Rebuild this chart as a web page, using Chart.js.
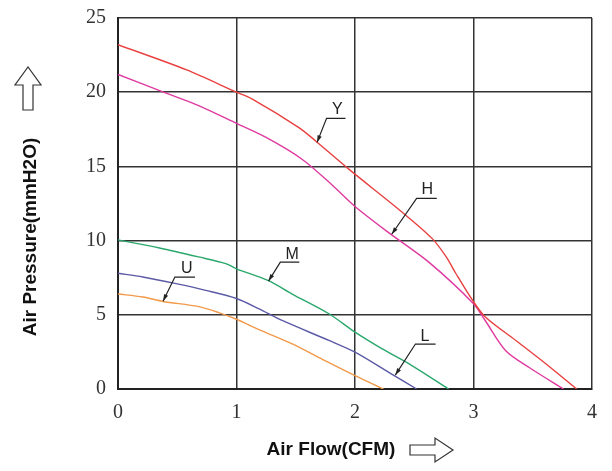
<!DOCTYPE html>
<html>
<head>
<meta charset="utf-8">
<script src="https://cdn.jsdelivr.net/npm/chart.js@4"></script>
<style>
  html, body { margin: 0; padding: 0; background: #fff; }
  #wrap { width: 612px; height: 471px; position: relative; }
</style>
</head>
<body>
<div id="wrap"><canvas id="myChart" width="612" height="471"></canvas></div>
<script>
// curve data (Air Flow CFM -> Air Pressure mmH2O)
const yFlow = [0, 0.58, 1.0, 1.13, 1.53, 1.67, 1.95, 2.37, 2.65, 2.77, 2.85, 2.99, 3.10, 3.36, 3.61, 3.87]
const yPres = [23.2, 21.5, 20.0, 19.55, 17.6, 16.7, 14.8, 12.1, 10.15, 8.9, 7.8, 6.0, 4.85, 3.25, 1.7, 0]

const hFlow = [0, 0.40, 0.68, 1.0, 1.25, 1.55, 1.80, 2.0, 2.29, 2.63, 3.0, 3.10, 3.27, 3.47, 3.76]
const hPres = [21.2, 19.95, 19.1, 17.9, 16.95, 15.5, 13.8, 12.3, 10.5, 8.5, 5.75, 4.6, 2.6, 1.45, 0]

const mFlow = [0, 0.35, 0.68, 0.91, 1.0, 1.27, 1.47, 1.78, 2.0, 2.23, 2.48, 2.79]
const mPres = [10.05, 9.5, 8.9, 8.45, 8.1, 7.3, 6.4, 5.07, 3.83, 2.7, 1.58, 0]

const lFlow = [0, 0.21, 0.49, 0.74, 1.0, 1.19, 1.39, 1.78, 2.0, 2.32, 2.52]
const lPres = [7.8, 7.55, 7.1, 6.65, 6.1, 5.4, 4.6, 3.27, 2.48, 0.95, 0]

const uFlow = [0, 0.21, 0.38, 0.68, 0.85, 1.0, 1.19, 1.47, 1.75, 2.0, 2.24]
const uPres = [6.4, 6.2, 5.9, 5.55, 5.15, 4.7, 4.0, 3.04, 1.9, 0.9, 0]

const xTicks = [0, 1, 2, 3, 4]
const yTicks = [0, 5, 10, 15, 20, 25]

// curve tags: letter, text spot, underline start/end, arrow tip (data units)
const tagNames = ["Y", "H", "M", "U", "L"]
const tagText = [[1.85, 18.85], [2.61, 13.46], [1.47, 9.08], [0.58, 8.08], [2.59, 3.5]]
const tagLine = [[1.76, 1.92, 18.24], [2.52, 2.69, 12.85], [1.37, 1.53, 8.55], [0.48, 0.65, 7.54], [2.51, 2.68, 3.03]]
const tagTip = [[1.68, 16.62], [2.31, 10.43], [1.27, 7.27], [0.38, 5.92], [2.34, 0.94]]

const toPoints = (xs, ys) => xs.map((x, i) => ({ x: x, y: ys[i] }))

const ctx = document.querySelector("#myChart")

function drawArrowHead(c, x0, y0, x1, y1) {
    const a = Math.atan2(y1 - y0, x1 - x0)
    const len = 7, w = 2.2
    c.beginPath()
    c.moveTo(x1, y1)
    c.lineTo(x1 - len * Math.cos(a) + w * Math.sin(a), y1 - len * Math.sin(a) - w * Math.cos(a))
    c.lineTo(x1 - len * Math.cos(a) - w * Math.sin(a), y1 - len * Math.sin(a) + w * Math.cos(a))
    c.closePath()
    c.fill()
}

const extras = {
    id: "extras",
    afterDatasetsDraw(chart) {
        const c = chart.ctx
        const xs = chart.scales.x, ys = chart.scales.y
        c.save()
        c.strokeStyle = "#222"
        c.fillStyle = "#222"
        c.lineWidth = 1.2
        c.font = "16px 'Liberation Sans', Arial, sans-serif"
        c.textAlign = "center"
        c.textBaseline = "middle"
        tagNames.forEach((name, i) => {
            const ux0 = xs.getPixelForValue(tagLine[i][0])
            const ux1 = xs.getPixelForValue(tagLine[i][1])
            const uy = ys.getPixelForValue(tagLine[i][2])
            const tx = xs.getPixelForValue(tagTip[i][0])
            const ty = ys.getPixelForValue(tagTip[i][1])
            c.beginPath()
            c.moveTo(ux1, uy)
            c.lineTo(ux0, uy)
            c.lineTo(tx, ty)
            c.stroke()
            drawArrowHead(c, ux0, uy, tx, ty)
            c.fillText(name, xs.getPixelForValue(tagText[i][0]), ys.getPixelForValue(tagText[i][1]))
        })

        // axis titles with hollow arrows
        c.font = "bold 19px 'Liberation Sans', Arial, sans-serif"
        c.fillStyle = "#111"
        c.fillText("Air Flow(CFM)", 331, 450)
        c.save()
        c.translate(31, 237)
        c.rotate(-Math.PI / 2)
        c.fillText("Air Pressure(mmH2O)", 0, 0)
        c.restore()

        c.strokeStyle = "#333"
        c.lineWidth = 1.2
        // right arrow
        c.beginPath()
        c.moveTo(410, 445); c.lineTo(435, 445); c.lineTo(435, 438); c.lineTo(453, 450)
        c.lineTo(435, 462); c.lineTo(435, 455); c.lineTo(410, 455); c.closePath()
        c.stroke()
        // up arrow
        c.beginPath()
        c.moveTo(23, 110); c.lineTo(23, 85); c.lineTo(15, 85); c.lineTo(28, 67)
        c.lineTo(41, 85); c.lineTo(33, 85); c.lineTo(33, 110); c.closePath()
        c.stroke()
        c.restore()
    }
}

function line(label, pts, color) {
    return {
        label: label,
        data: pts,
        borderColor: color,
        borderWidth: 1.4,
        pointRadius: 0,
        showLine: true,
        tension: 0.3,
        fill: false
    }
}

const chart = new Chart(ctx, {
    type: "scatter",
    data: {
        datasets: [
            line("Y", toPoints(yFlow, yPres), "#e8403f"),
            line("H", toPoints(hFlow, hPres), "#df3aa0"),
            line("M", toPoints(mFlow, mPres), "#2aa86c"),
            line("L", toPoints(lFlow, lPres), "#5b5aa6"),
            line("U", toPoints(uFlow, uPres), "#f29a4a")
        ]
    },
    options: {
        responsive: false,
        animation: false,
        layout: { padding: { top: 18, right: 20, left: 0, bottom: 0 } },
        plugins: {
            legend: { display: false },
            tooltip: { enabled: false }
        },
        scales: {
            x: {
                type: "linear",
                min: 0,
                max: 4,
                afterFit: (s) => { s.height = 82; s.paddingLeft = 0; s.paddingRight = 0 },
                afterBuildTicks: (s) => { s.ticks = xTicks.map(v => ({ value: v })) },
                grid: { color: "#333", lineWidth: 1.5, drawTicks: false },
                border: { color: "#222", width: 2 },
                ticks: {
                    padding: 12,
                    color: "#333",
                    font: { family: "'Liberation Serif', 'Times New Roman', serif", size: 20 }
                }
            },
            y: {
                type: "linear",
                min: 0,
                max: 25,
                afterFit: (s) => { s.width = 118; s.paddingTop = 0; s.paddingBottom = 0 },
                afterBuildTicks: (s) => { s.ticks = yTicks.map(v => ({ value: v })) },
                grid: { color: "#333", lineWidth: 1.5, drawTicks: false },
                border: { color: "#222", width: 2 },
                ticks: {
                    padding: 12,
                    color: "#333",
                    font: { family: "'Liberation Serif', 'Times New Roman', serif", size: 20 }
                }
            }
        }
    },
    plugins: [extras]
})
</script>
</body>
</html>
